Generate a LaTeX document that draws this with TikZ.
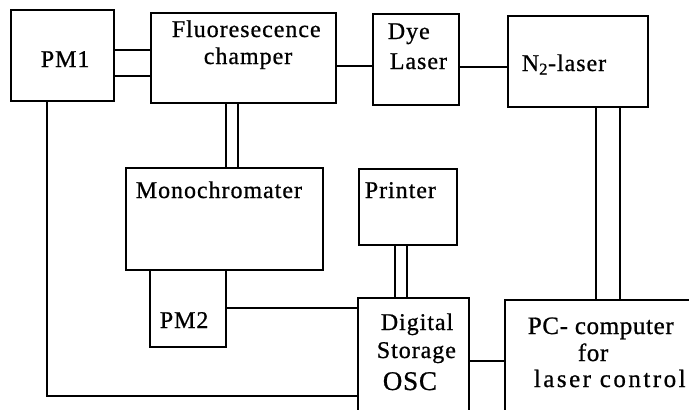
\documentclass[tikz,border=0pt]{standalone}
\usepackage{fontspec}
\setmainfont{Liberation Serif}[FakeBold=0.8]
\begin{document}
\begin{tikzpicture}[x=1pt,y=-1pt,line width=1.7pt,
  box/.style={draw,line width=1.7pt,inner sep=0pt,anchor=north west},
  lab/.style={inner sep=0pt,anchor=base west,font=\fontsize{24}{28}\selectfont\addfontfeatures{LetterSpace=4}},
  labpc/.style={inner sep=0pt,anchor=base west,font=\fontsize{25}{29}\selectfont\addfontfeatures{LetterSpace=#1}},
  labosc/.style={inner sep=0pt,anchor=base west,font=\fontsize{27}{30}\selectfont\addfontfeatures{LetterSpace=3}}]
\useasboundingbox (0,0) rectangle (689,410);
\clip (0,0) rectangle (689,410);
% boxes
\node[box,minimum width=103pt,minimum height=91pt] (pm1) at (10,9) {};
\node[box,minimum width=185pt,minimum height=90pt] (flu) at (150,12) {};
\node[box,minimum width=86pt,minimum height=91pt] (dye) at (372,13) {};
\node[box,minimum width=140pt,minimum height=91pt] (n2) at (507,15) {};
\node[box,minimum width=197pt,minimum height=102pt] (mono) at (125,167) {};
\node[box,minimum width=98pt,minimum height=76pt] (prn) at (358,168) {};
\node[box,minimum width=76pt,minimum height=77pt] (pm2) at (149,269) {};
\node[box,minimum width=111pt,minimum height=140pt] (dso) at (357,297) {};
\node[box,minimum width=220pt,minimum height=140pt] (pc) at (504,299) {};
% connectors
\draw (pm1.east |- 0,50) -- (flu.west |- 0,50);
\draw (pm1.east |- 0,76) -- (flu.west |- 0,76);
\draw (flu.east |- 0,66) -- (dye.west |- 0,66);
\draw (dye.east |- 0,67) -- (n2.west |- 0,67);
\draw (flu.south -| 226,0) -- (mono.north -| 226,0);
\draw (flu.south -| 238,0) -- (mono.north -| 238,0);
\draw (n2.south -| 596,0) -- (pc.north -| 596,0);
\draw (n2.south -| 620,0) -- (pc.north -| 620,0);
\draw (prn.south -| 395,0) -- (dso.north -| 395,0);
\draw (prn.south -| 407,0) -- (dso.north -| 407,0);
\draw (pm2.east |- 0,308) -- (dso.west |- 0,308);
\draw (dso.east |- 0,361) -- (pc.west |- 0,361);
\draw (pm1.south -| 47,0) |- (dso.west |- 0,396);
% texts
\node[lab] (tpm1) at (40,67) {PM1};
\node[lab] (tflu1) at (171,37) {Fluoresecence};
\node[lab] (tflu2) at (203,64) {champer};
\node[lab] (tdye1) at (387,39) {Dye};
\node[lab] (tdye2) at (389,69) {Laser};
\node[lab] (tn2) at (521,71) {N\textsubscript{2}-laser};
\node[lab] (tmono) at (135,198) {Monochromater};
\node[lab] (tprn) at (364,198) {Printer};
\node[lab] (tpm2) at (159,328) {PM2};
\node[lab] (tdso1) at (380,330) {Digital};
\node[lab] (tdso2) at (376,358) {Storage};
\node[labosc] (tdso3) at (382,390) {OSC};
\node[labpc=2.5] (tpc1) at (527,334) {PC- computer};
\node[labpc=2.5] (tpc2) at (577,361) {for};
\node[labpc=10] (tpc3) at (533,387) {laser control};
\end{tikzpicture}
\end{document}
